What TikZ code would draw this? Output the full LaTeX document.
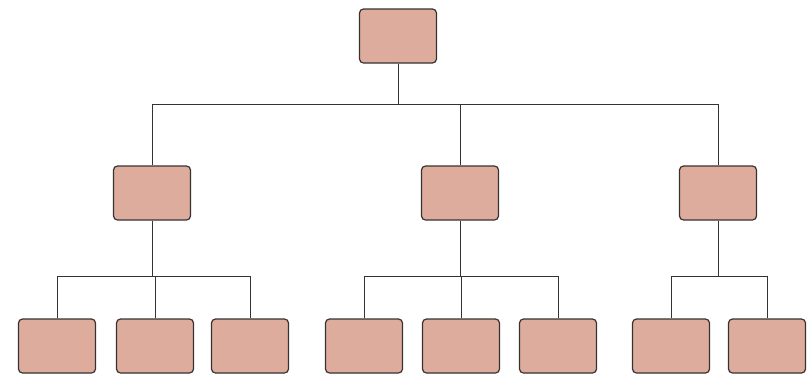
\documentclass[tikz,border=0pt]{standalone}
\usetikzlibrary{calc}
\definecolor{boxfill}{RGB}{222,172,156}
\definecolor{boxline}{RGB}{55,50,50}
\begin{document}
\begin{tikzpicture}[x=1pt,y=-1pt,
  orgbox/.style={draw=boxline,line width=1.2pt,fill=boxfill,rounded corners=4pt,minimum width=77pt,minimum height=54pt,inner sep=0pt},
  link/.style={draw=black!80,line width=0.9pt}]
\useasboundingbox (0,0) rectangle (810,376);
% top
\node[orgbox] (top) at (398,36) {};
% middle
\node[orgbox] (m1) at (152,193) {};
\node[orgbox] (m2) at (460,193) {};
\node[orgbox] (m3) at (718,193) {};
% bottom
\node[orgbox] (b1) at (57,346) {};
\node[orgbox] (b2) at (155,346) {};
\node[orgbox] (b3) at (250,346) {};
\node[orgbox] (b4) at (364,346) {};
\node[orgbox] (b5) at (461,346) {};
\node[orgbox] (b6) at (558,346) {};
\node[orgbox] (b7) at (671,346) {};
\node[orgbox] (b8) at (767,346) {};
% connectors
\coordinate (j0) at (398,104);
\draw[link] (top.south) -- (j0);
\draw[link] (m1.north) -- (m1.north |- j0) -- (m3.north |- j0) -- (m3.north);
\draw[link] (m2.north) -- (m2.north |- j0);
\coordinate (j1) at (152,276);
\draw[link] (m1.south) -- (j1);
\draw[link] (b1.north) -- (b1.north |- j1) -- (b3.north |- j1) -- (b3.north);
\draw[link] (b2.north) -- (b2.north |- j1);
\draw[link] (m2.south) -- (m2.south |- j1);
\draw[link] (b4.north) -- (b4.north |- j1) -- (b6.north |- j1) -- (b6.north);
\draw[link] (b5.north) -- (b5.north |- j1);
\draw[link] (m3.south) -- (m3.south |- j1);
\draw[link] (b7.north) -- (b7.north |- j1) -- (b8.north |- j1) -- (b8.north);
\end{tikzpicture}
\end{document}
